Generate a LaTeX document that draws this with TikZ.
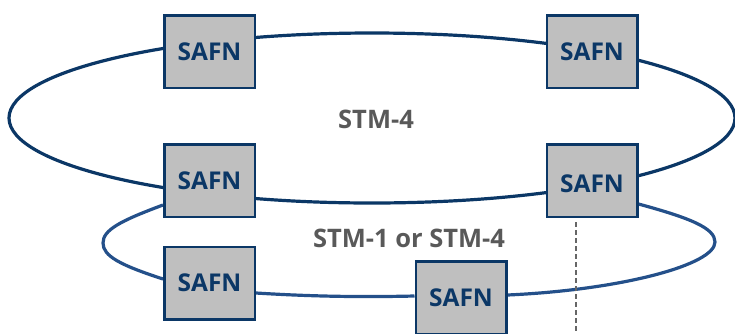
\documentclass[tikz,border=0pt]{standalone}
\usepackage{fontspec}
\setmainfont{Open Sans}
\usetikzlibrary{backgrounds}
\definecolor{navy}{HTML}{0B3766}
\definecolor{navyl}{HTML}{24508A}
\definecolor{boxfill}{HTML}{BFBFBF}
\definecolor{txtgray}{HTML}{595959}
\definecolor{dashgray}{HTML}{666666}
\tikzset{
  safn/.style={draw=navy, line width=2.5pt, fill=boxfill, minimum width=90.5pt, minimum height=72.5pt,
    inner sep=0pt, font=\fontsize{24.5}{27}\selectfont\bfseries, text=navy},
  ringlbl/.style={font=\fontsize{25.5}{28}\selectfont\bfseries, text=txtgray, inner sep=0pt},
  ring/.style={draw=navy, line width=3.2pt},
  ringb/.style={draw=navyl, line width=3.2pt},
  dashline/.style={draw=dashgray, line width=1.3pt, dash pattern=on 5pt off 3pt}
}
\begin{document}
\begin{tikzpicture}[x=1pt,y=1pt]
\useasboundingbox (0,0) rectangle (735,-333);
\node[safn] (TL) at (209.5,-51.5) {SAFN};
\node[safn] (TR) at (592,-51.5) {SAFN};
\node[safn] (ML) at (209.5,-180.5) {SAFN};
\node[safn] (MR) at (592,-180.5) {\raisebox{-3.5pt}[\height][\depth]{SAFN}};
\node[safn] (BL) at (209.5,-283) {SAFN};
\node[safn] (BM) at (461,-297.5) {SAFN};
\node[ringlbl] (L1) at (376,-119) {STM-4};
\node[ringlbl] (L2) at (409,-238) {STM-1 or STM-4};
\coordinate (dend) at (576,-333);
\begin{pgfonlayer}{background}
  % STM-4 ring through TL, TR, MR, ML
  \draw[ring] (372,-118) ellipse [x radius=363, y radius=85];
  % STM-1 or STM-4 ring: ML - BL - BM - MR
  \draw[ringb] ([yshift=-24.5pt]ML.west) .. controls (120,-221) and (103,-230) .. (103,-243)
     .. controls (103,-256) and (120,-265) .. ([yshift=4pt]BL.west);
  \draw[ringb] ([yshift=-10pt]BL.east) .. controls (320,-297) and (370,-297) .. ([yshift=1.5pt]BM.west);
  \draw[ringb] ([yshift=2.5pt]BM.east) .. controls (620,-290) and (715,-265) .. (715,-242)
     .. controls (715,-228) and (690,-218) .. ([yshift=-23.5pt]MR.east);
  \draw[dashline] ([xshift=-16pt,yshift=-4pt]MR.south) -- (dend);
\end{pgfonlayer}
\end{tikzpicture}
\end{document}
